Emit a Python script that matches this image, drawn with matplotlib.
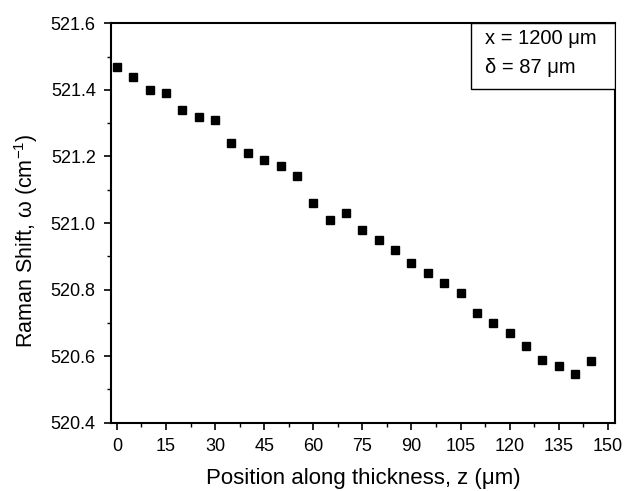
import matplotlib
matplotlib.use("Agg")
import matplotlib.pyplot as plt
from matplotlib.ticker import MultipleLocator
from matplotlib.patches import Rectangle

z = [0, 5, 10, 15, 20, 25, 30, 35, 40, 45, 50, 55, 60, 65, 70, 75, 80, 85, 90,
     95, 100, 105, 110, 115, 120, 125, 130, 135, 140, 145]
omega = [521.47, 521.44, 521.40, 521.39, 521.34, 521.32, 521.31, 521.24, 521.21,
         521.19, 521.17, 521.14, 521.06, 521.01, 521.03, 520.98, 520.95, 520.92,
         520.88, 520.85, 520.82, 520.79, 520.73, 520.70, 520.67, 520.63, 520.59,
         520.57, 520.545, 520.585]
xticks = [0, 15, 30, 45, 60, 75, 90, 105, 120, 135, 150]
yticks = [520.4, 520.6, 520.8, 521.0, 521.2, 521.4, 521.6]

plt.rcParams['font.family'] = ['Liberation Sans', 'DejaVu Sans']
plt.rcParams['mathtext.fontset'] = 'custom'
plt.rcParams['mathtext.rm'] = 'Liberation Sans'

fig = plt.figure(figsize=(6.26, 4.91), dpi=100)
ax = fig.add_axes([0.1773, 0.139, 0.8051, 0.8135])
ax.plot(z, omega, linestyle='none', marker='s', color='black', ms=6)

ax.set_xlim(-1.8, 152.2)
ax.set_ylim(520.4, 521.6)
ax.set_xticks(xticks)
ax.set_xticklabels([str(t) for t in xticks])
ax.set_yticks(yticks)
ax.set_yticklabels([f"{t:.1f}" for t in yticks])
ax.xaxis.set_minor_locator(MultipleLocator(7.5))
ax.yaxis.set_minor_locator(MultipleLocator(0.1))
ax.tick_params(which='major', direction='out', length=5, width=1.2, labelsize=13,
               pad=6, colors='black')
ax.tick_params(which='minor', direction='out', length=3, width=1.0)
for s in ax.spines.values():
    s.set_linewidth(1.5)

ax.set_xlabel('Position along thickness, z (\u03bcm)', fontsize=16, labelpad=9)
ax.set_ylabel('Raman Shift, \u03c9 (cm$^{\\mathrm{-1}}$)', fontsize=15.5)
ax.yaxis.set_label_coords(-0.141, 0.455)

ax.add_patch(Rectangle((0.714, 0.836), 0.286, 0.164, transform=ax.transAxes,
                       facecolor='white', edgecolor='black', linewidth=1.0, zorder=3))
ax.text(0.742, 0.963, 'x = 1200 \u03bcm', transform=ax.transAxes, fontsize=14.5,
        va='center', ha='left', zorder=4)
ax.text(0.742, 0.889, '\u03b4 = 87 \u03bcm', transform=ax.transAxes, fontsize=14.5,
        va='center', ha='left', zorder=4)

fig.savefig('out.png', dpi=100)
